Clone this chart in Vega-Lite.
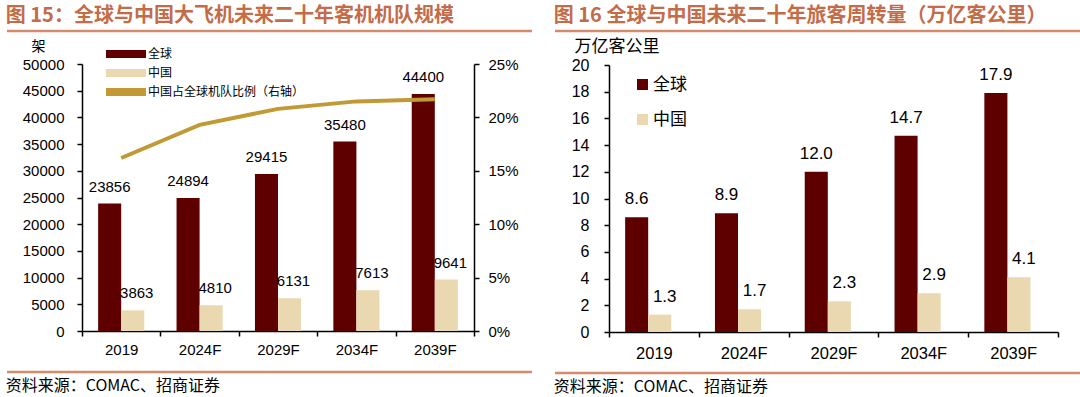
{
  "$schema": "https://vega.github.io/schema/vega-lite/v6.json",
  "background": "white",
  "padding": {"left": 5, "top": 5, "right": 0, "bottom": 0},
  "config": {
    "view": {"stroke": null},
    "font": "Liberation Sans",
    "title": {"font": "Noto Sans CJK SC", "fontSize": 20, "fontWeight": "bold", "color": "#c46b48", "anchor": "start", "offset": 4, "frame": "bounds"},
    "axis": {"labelFont": "Liberation Sans", "labelColor": "black", "domainColor": "black", "tickColor": "black", "grid": false, "domainWidth": 1.5, "tickWidth": 1.5, "tickSize": 5, "titleColor": "black", "titleFont": "Noto Sans CJK SC", "titleFontWeight": "normal", "labelOverlap": false},
    "legend": {"labelFont": "Noto Sans CJK SC", "labelColor": "black"}
  },
  "resolve": {"scale": {"color": "independent", "x": "independent", "y": "independent"}, "legend": {"color": "independent"}},
  "datasets": {
    "fleet": [
      {"year": "2019", "series": "全球", "value": 23856},
      {"year": "2019", "series": "中国", "value": 3863},
      {"year": "2024F", "series": "全球", "value": 24894},
      {"year": "2024F", "series": "中国", "value": 4810},
      {"year": "2029F", "series": "全球", "value": 29415},
      {"year": "2029F", "series": "中国", "value": 6131},
      {"year": "2034F", "series": "全球", "value": 35480},
      {"year": "2034F", "series": "中国", "value": 7613},
      {"year": "2039F", "series": "全球", "value": 44400},
      {"year": "2039F", "series": "中国", "value": 9641}
    ],
    "ratio": [
      {"year": "2019", "ratio": 0.162},
      {"year": "2024F", "ratio": 0.193},
      {"year": "2029F", "ratio": 0.208},
      {"year": "2034F", "ratio": 0.215},
      {"year": "2039F", "ratio": 0.217}
    ],
    "rpk": [
      {"year": "2019", "series": "全球", "value": 8.6},
      {"year": "2019", "series": "中国", "value": 1.3},
      {"year": "2024F", "series": "全球", "value": 8.9},
      {"year": "2024F", "series": "中国", "value": 1.7},
      {"year": "2029F", "series": "全球", "value": 12.0},
      {"year": "2029F", "series": "中国", "value": 2.3},
      {"year": "2034F", "series": "全球", "value": 14.7},
      {"year": "2034F", "series": "中国", "value": 2.9},
      {"year": "2039F", "series": "全球", "value": 17.9},
      {"year": "2039F", "series": "中国", "value": 4.1}
    ]
  },
  "spacing": 19,
  "hconcat": [
    {
      "spacing": 6,
      "columns": 1,
      "concat": [
        {
          "width": 392, "height": 1,
          "title": {"text": "图 15：全球与中国大飞机未来二十年客机机队规模"},
          "data": {"values": [{}]},
          "mark": {"type": "rule", "color": "#d38b6c", "strokeWidth": 2.5, "clip": false},
          "encoding": {
            "x": {"datum": 0, "type": "quantitative", "scale": {"domain": [0, 1], "range": [-75, 450]}, "axis": null},
            "x2": {"datum": 1},
            "y": {"datum": 0, "type": "quantitative", "scale": {"domain": [0, 1]}, "axis": null}
          }
        },
        {
          "width": 392, "height": 267,
          "layer": [
            {
              "data": {"name": "fleet"},
              "layer": [
                {
                  "mark": {"type": "bar"},
                  "encoding": {
                    "x": {"field": "year", "type": "nominal", "sort": null, "scale": {"paddingInner": 0, "paddingOuter": 0},
                      "axis": {"title": null, "labelAngle": 0, "tickBand": "extent", "labelFontSize": 15, "labelPadding": 6}},
                    "xOffset": {"field": "series", "type": "nominal", "scale": {"domain": ["全球", "中国"], "paddingOuter": 0.7, "paddingInner": 0}},
                    "y": {"field": "value", "type": "quantitative", "scale": {"domain": [0, 50000], "nice": false},
                      "axis": {"values": [0, 5000, 10000, 15000, 20000, 25000, 30000, 35000, 40000, 45000, 50000], "format": "d", "labelFontSize": 15, "labelPadding": 13, "minExtent": 70,
                        "title": "架", "titleAngle": 0, "titleX": -44, "titleY": -18, "titleAlign": "center", "titleBaseline": "middle", "titleFontSize": 14}},
                    "color": {"field": "series", "type": "nominal",
                      "scale": {"domain": ["全球", "中国", "中国占全球机队比例（右轴）"], "range": ["#5e0000", "#ead9b0", "#c19a35"]},
                      "legend": {"title": null, "orient": "none", "legendX": 38, "legendY": 18, "padding": 0,
                        "symbolType": "M-4,-0.8H4V0.8H-4Z", "symbolSize": 100, "symbolStrokeWidth": 0, "labelFontSize": 12, "labelOffset": 16, "rowPadding": 7}}
                  }
                },
                {
                  "transform": [{"filter": "datum.series === '全球'"}],
                  "mark": {"type": "text", "baseline": "alphabetic", "dy": -12, "fontSize": 15, "color": "black"},
                  "encoding": {
                    "x": {"field": "year", "type": "nominal", "sort": null},
                    "xOffset": {"field": "series", "type": "nominal", "scale": {"domain": ["全球", "中国"]}},
                    "y": {"field": "value", "type": "quantitative",
                      "axis": {"values": [0, 5000, 10000, 15000, 20000, 25000, 30000, 35000, 40000, 45000, 50000], "format": "d", "labelFontSize": 15, "labelPadding": 13, "minExtent": 70,
                        "title": "架", "titleAngle": 0, "titleX": -44, "titleY": -18, "titleAlign": "center", "titleBaseline": "middle", "titleFontSize": 14}},
                    "text": {"field": "value", "type": "quantitative", "format": "d"}
                  }
                },
                {
                  "transform": [{"filter": "datum.series === '中国'"}],
                  "mark": {"type": "text", "baseline": "alphabetic", "dy": -12, "dx": 4, "fontSize": 15, "color": "black"},
                  "encoding": {
                    "x": {"field": "year", "type": "nominal", "sort": null},
                    "xOffset": {"field": "series", "type": "nominal", "scale": {"domain": ["全球", "中国"]}},
                    "y": {"field": "value", "type": "quantitative",
                      "axis": {"values": [0, 5000, 10000, 15000, 20000, 25000, 30000, 35000, 40000, 45000, 50000], "format": "d", "labelFontSize": 15, "labelPadding": 13, "minExtent": 70,
                        "title": "架", "titleAngle": 0, "titleX": -44, "titleY": -18, "titleAlign": "center", "titleBaseline": "middle", "titleFontSize": 14}},
                    "text": {"field": "value", "type": "quantitative", "format": "d"}
                  }
                }
              ]
            },
            {
              "data": {"name": "ratio"},
              "mark": {"type": "line", "strokeWidth": 4},
              "encoding": {
                "x": {"field": "year", "type": "nominal", "sort": null},
                "y": {"field": "ratio", "type": "quantitative", "scale": {"domain": [0, 0.25], "nice": false},
                  "axis": {"orient": "right", "values": [0, 0.05, 0.1, 0.15, 0.2, 0.25], "format": ".0%", "labelFontSize": 15, "labelPadding": 9, "title": null, "minExtent": 50}},
                "color": {"datum": "中国占全球机队比例（右轴）"}
              }
            }
          ],
          "resolve": {"scale": {"y": "independent"}}
        },
        {
          "width": 392, "height": 9,
          "title": {"text": "资料来源：COMAC、招商证券", "orient": "bottom", "fontSize": 16, "fontWeight": "normal", "color": "black", "offset": 5},
          "data": {"values": [{}]},
          "mark": {"type": "rule", "color": "#d38b6c", "strokeWidth": 2.5, "clip": false},
          "encoding": {
            "x": {"datum": 0, "type": "quantitative", "scale": {"domain": [0, 1], "range": [-75, 450]}, "axis": null},
            "x2": {"datum": 1},
            "y": {"datum": 0, "type": "quantitative", "scale": {"domain": [0, 1]}, "axis": null}
          }
        }
      ]
    },
    {
      "spacing": 4,
      "columns": 1,
      "concat": [
        {
          "width": 449, "height": 1,
          "title": {"text": "图 16 全球与中国未来二十年旅客周转量（万亿客公里）"},
          "data": {"values": [{}]},
          "mark": {"type": "rule", "color": "#d38b6c", "strokeWidth": 2.5, "clip": false},
          "encoding": {
            "x": {"datum": 0, "type": "quantitative", "scale": {"domain": [0, 1], "range": [-54, 472]}, "axis": null},
            "x2": {"datum": 1},
            "y": {"datum": 0, "type": "quantitative", "scale": {"domain": [0, 1]}, "axis": null}
          }
        },
        {
          "width": 449, "height": 267,
          "data": {"name": "rpk"},
          "layer": [
            {
              "mark": {"type": "bar"},
              "encoding": {
                "x": {"field": "year", "type": "nominal", "sort": null, "scale": {"paddingInner": 0, "paddingOuter": 0},
                  "axis": {"title": null, "labelAngle": 0, "tickBand": "extent", "labelFontSize": 16.5, "labelPadding": 8}},
                "xOffset": {"field": "series", "type": "nominal", "scale": {"domain": ["全球", "中国"], "paddingOuter": 0.73, "paddingInner": 0}},
                "y": {"field": "value", "type": "quantitative", "scale": {"domain": [0, 20], "nice": false},
                  "axis": {"values": [0, 2, 4, 6, 8, 10, 12, 14, 16, 18, 20], "labelFontSize": 16, "labelPadding": 15,
                    "title": "万亿客公里", "titleAngle": 0, "titleX": -35, "titleY": -19, "titleAlign": "left", "titleBaseline": "middle", "titleFontSize": 17}},
                "color": {"field": "series", "type": "nominal",
                  "scale": {"domain": ["全球", "中国"], "range": ["#5e0000", "#ead9b0"]},
                  "legend": {"title": null, "orient": "none", "legendX": 25, "legendY": 46, "padding": 0,
                    "symbolType": "square", "symbolSize": 121, "symbolStrokeWidth": 0, "labelFontSize": 17, "labelOffset": 2, "rowPadding": 17}}
              }
            },
            {
              "transform": [{"filter": "datum.series === '全球'"}],
              "mark": {"type": "text", "baseline": "alphabetic", "dy": -13, "fontSize": 17, "color": "black"},
              "encoding": {
                "x": {"field": "year", "type": "nominal", "sort": null},
                "xOffset": {"field": "series", "type": "nominal", "scale": {"domain": ["全球", "中国"]}},
                "y": {"field": "value", "type": "quantitative",
                  "axis": {"values": [0, 2, 4, 6, 8, 10, 12, 14, 16, 18, 20], "labelFontSize": 16, "labelPadding": 15,
                    "title": "万亿客公里", "titleAngle": 0, "titleX": -35, "titleY": -19, "titleAlign": "left", "titleBaseline": "middle", "titleFontSize": 17}},
                "text": {"field": "value", "type": "quantitative", "format": ".1f"}
              }
            },
            {
              "transform": [{"filter": "datum.series === '中国'"}],
              "mark": {"type": "text", "baseline": "alphabetic", "dy": -13, "dx": 5, "fontSize": 17, "color": "black"},
              "encoding": {
                "x": {"field": "year", "type": "nominal", "sort": null},
                "xOffset": {"field": "series", "type": "nominal", "scale": {"domain": ["全球", "中国"]}},
                "y": {"field": "value", "type": "quantitative",
                  "axis": {"values": [0, 2, 4, 6, 8, 10, 12, 14, 16, 18, 20], "labelFontSize": 16, "labelPadding": 15,
                    "title": "万亿客公里", "titleAngle": 0, "titleX": -35, "titleY": -19, "titleAlign": "left", "titleBaseline": "middle", "titleFontSize": 17}},
                "text": {"field": "value", "type": "quantitative", "format": ".1f"}
              }
            }
          ]
        },
        {
          "width": 449, "height": 7,
          "title": {"text": "资料来源：COMAC、招商证券", "orient": "bottom", "fontSize": 16, "fontWeight": "normal", "color": "black", "offset": 5},
          "data": {"values": [{}]},
          "mark": {"type": "rule", "color": "#d38b6c", "strokeWidth": 2.5, "clip": false},
          "encoding": {
            "x": {"datum": 0, "type": "quantitative", "scale": {"domain": [0, 1], "range": [-54, 472]}, "axis": null},
            "x2": {"datum": 1},
            "y": {"datum": 0, "type": "quantitative", "scale": {"domain": [0, 1]}, "axis": null}
          }
        }
      ]
    }
  ]
}
